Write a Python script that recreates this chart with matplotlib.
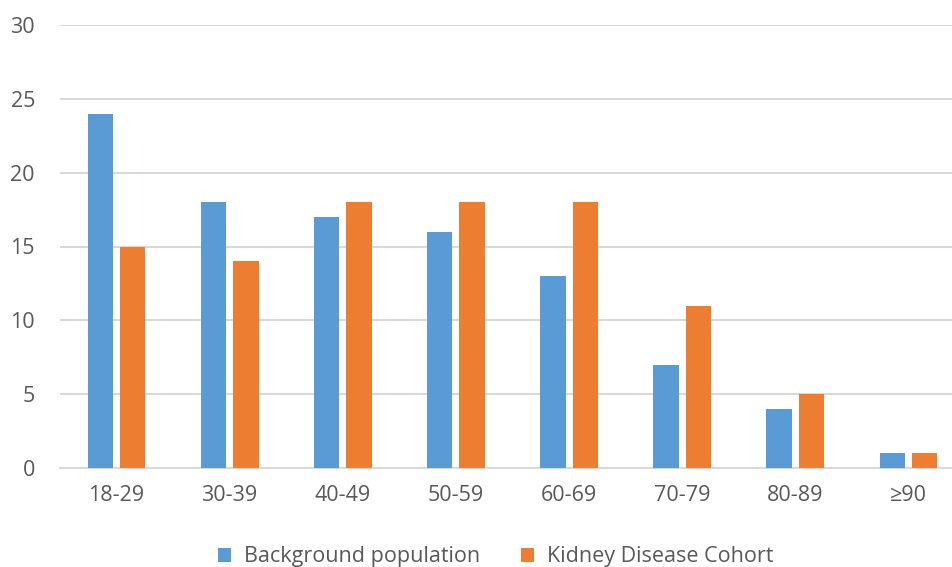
import numpy as np
import matplotlib.pyplot as plt

# данные
categories = ["18-29", "30-39", "40-49", "50-59", "60-69", "70-79", "80-89", "≥90"]
background = [24, 18, 17, 16, 13, 7, 4, 1]
kidney = [15, 14, 18, 18, 18, 11, 5, 1]

plt.rcParams['font.family'] = ['Open Sans', 'DejaVu Sans']

fig = plt.figure(figsize=(9.53, 5.67), dpi=100)
ax = fig.add_axes([60 / 953, 99 / 567, 905 / 953, 443 / 567])

x = np.arange(len(categories))
w = 0.225
ax.bar(x - 0.143, background, w, color='#5B9BD5', label='Background population', zorder=3)
ax.bar(x + 0.143, kidney, w, color='#ED7D31', label='Kidney Disease Cohort', zorder=3)

ax.set_xlim(-0.5, len(categories) - 0.5)
ax.set_ylim(0, 30)
ax.set_yticks(range(0, 31, 5))
ax.set_xticks(x)
ax.set_xticklabels(categories)

ax.grid(axis='y', color='#D9D9D9', linewidth=1.5, zorder=0)
for s in ['top', 'right', 'left']:
    ax.spines[s].set_visible(False)
ax.spines['bottom'].set_color('#D9D9D9')
ax.spines['bottom'].set_linewidth(1.5)
ax.tick_params(length=0, labelsize=15.5, colors='#595959')
ax.tick_params(axis='y', pad=18)
ax.tick_params(axis='x', pad=12)

fig.legend(loc='center', bbox_to_anchor=(0.52, 0.018), ncol=2, frameon=False,
           fontsize=15.5, labelcolor='#595959', handlelength=0.6, handleheight=0.6,
           columnspacing=1.9, handletextpad=0.6)

fig.savefig('out.png', dpi=100)
